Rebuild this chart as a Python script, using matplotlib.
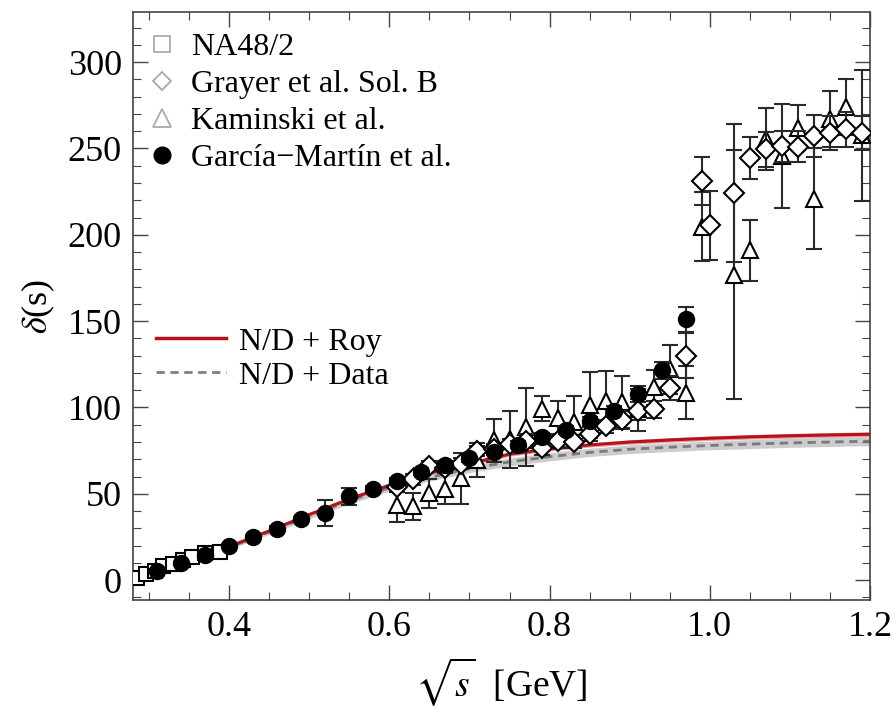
import numpy as np
import matplotlib.pyplot as plt
from matplotlib.lines import Line2D

plt.rcParams['font.family'] = ['Liberation Serif', 'DejaVu Serif']
plt.rcParams['mathtext.fontset'] = 'stix'

# NA48/2 (open squares)
na48_x = [0.285, 0.296, 0.307, 0.318, 0.330, 0.342, 0.354, 0.370, 0.388]
na48_y = [1.0, 3.5, 5.5, 8.0, 9.5, 11.5, 13.5, 15.5, 16.5]
na48_err = [0.5, 0.5, 0.6, 0.6, 0.7, 0.7, 0.8, 0.8, 0.9]

# Grayer et al. Sol. B (open diamonds)
grayer_x = [0.61, 0.63, 0.65, 0.67, 0.69, 0.71, 0.73, 0.75, 0.77, 0.79, 0.81, 0.83, 0.85,
            0.87, 0.89, 0.91, 0.93, 0.95, 0.97, 0.99, 1.00, 1.03, 1.05, 1.07, 1.09, 1.11,
            1.13, 1.15, 1.17, 1.19]
grayer_y = [54.0, 58.3, 66.3, 65.0, 67.5, 74.9, 76.0, 79.0, 80.5, 76.3, 80.6, 80.3, 84.5,
            89.0, 93.0, 98.0, 99.0, 111.5, 130.0, 231.0, 205.6, 224.0, 244.5, 249.4, 251.3,
            251.0, 257.3, 259.0, 261.0, 259.0]
grayer_err = [3, 3, 3, 3, 3, 3, 3, 3, 4, 4, 4, 4, 4, 4, 5, 5, 5, 7, 13,
              14, 20, 40, 12, 10, 9, 9, 12, 10, 10, 10]

# Kaminski et al. (open triangles)
kam_x = [0.61, 0.63, 0.65, 0.67, 0.69, 0.71, 0.73, 0.75, 0.77, 0.79, 0.81, 0.83, 0.85,
         0.87, 0.89, 0.91, 0.93, 0.95, 0.97, 0.99, 1.03, 1.05, 1.07, 1.09, 1.11, 1.13,
         1.15, 1.17, 1.19]
kam_y = [43.4, 42.8, 50.2, 53.0, 59.0, 69.5, 81.0, 81.5, 88.8, 99.4, 93.8, 91.7, 101.5,
         104.0, 103.0, 99.4, 111.6, 122.0, 108.5, 204.6, 177.0, 191.0, 255.7, 245.5, 262.0,
         221.0, 267.0, 274.0, 257.7]
kam_err = [9.5, 7.7, 8.6, 9.0, 14.8, 10.0, 12.5, 16.5, 22.5, 7.2, 10.0, 15.0, 19.0,
           17.0, 15.5, 13.3, 10.0, 14.0, 15.4, 20.0, 72.0, 17.6, 18.0, 30.0, 13.0, 29.0,
           16.0, 16.0, 38.0]

# Garcia-Martin et al. (filled circles)
gm_x = [0.31, 0.34, 0.37, 0.40, 0.43, 0.46, 0.49, 0.52, 0.55, 0.58, 0.61, 0.64, 0.67,
        0.70, 0.73, 0.76, 0.79, 0.82, 0.85, 0.88, 0.91, 0.94, 0.97]
gm_y = [5.2, 9.7, 14.3, 19.7, 25.1, 29.9, 35.3, 39.0, 48.6, 52.7, 57.5, 62.8, 66.8,
        70.5, 74.5, 78.4, 83.0, 86.9, 92.0, 98.2, 107.8, 121.5, 151.0]
gm_err = [1.0, 1.0, 1.2, 1.2, 1.3, 1.4, 1.5, 7.5, 5.0, 1.6, 1.8, 2.0, 2.0,
          2.0, 2.0, 2.0, 2.2, 2.2, 2.4, 2.6, 3.0, 5.0, 7.0]

# N/D curves
curve_x = [0.28, 0.30, 0.33, 0.36, 0.40, 0.45, 0.50, 0.55, 0.60, 0.65, 0.70, 0.75, 0.80,
           0.85, 0.90, 0.95, 1.00, 1.05, 1.10, 1.15, 1.20]
roy_y = [0.0, 3.0, 8.0, 13.0, 19.5, 28.5, 38.0, 47.0, 55.0, 62.0, 67.5, 73.0, 76.0,
         78.3, 80.0, 81.2, 82.2, 83.0, 83.6, 84.1, 84.5]
roy_band = [0.0, 0.3, 0.5, 0.6, 0.7, 0.8, 0.9, 1.0, 1.0, 1.1, 1.1, 1.2, 1.2,
            1.2, 1.3, 1.3, 1.3, 1.3, 1.4, 1.4, 1.4]
dat_y = [0.0, 3.0, 8.0, 13.0, 19.0, 28.0, 37.2, 46.0, 53.5, 59.5, 64.5, 68.5, 71.5,
         74.0, 75.8, 77.0, 78.0, 78.8, 79.5, 80.0, 80.5]
dat_band = [0.0, 0.5, 0.8, 1.0, 1.2, 1.4, 1.6, 1.8, 2.0, 2.1, 2.2, 2.3, 2.4,
            2.4, 2.5, 2.5, 2.5, 2.6, 2.6, 2.6, 2.6]

fig = plt.figure(figsize=(8.95, 7.08), dpi=100)
ax = fig.add_axes([0.1486, 0.1525, 0.8235, 0.8305])

cx = np.array(curve_x)
ax.fill_between(cx, np.array(dat_y) - dat_band, np.array(dat_y) + dat_band,
                color='#cccccc', lw=0, zorder=1)
ax.fill_between(cx, np.array(roy_y) - roy_band, np.array(roy_y) + roy_band,
                color='#e8a0a0', lw=0, zorder=1.5)
ax.plot(cx, dat_y, color='#7a7a7a', lw=2, ls=(0, (3, 2)), zorder=2)
ax.plot(cx, roy_y, color='#b5121b', lw=2.2, zorder=2.5)

ebar = dict(ecolor='#2a2a2a', elinewidth=1.5, capsize=6, capthick=1.5, ls='none')
ax.errorbar(na48_x, na48_y, yerr=na48_err, fmt='s', ms=10, mfc='white', mec='black',
            mew=1.5, zorder=3, **ebar)
ax.errorbar(kam_x, kam_y, yerr=kam_err, fmt='^', ms=12, mfc='white', mec='black',
            mew=1.5, zorder=4, **ebar)
ax.errorbar(grayer_x, grayer_y, yerr=grayer_err, fmt='D', ms=10, mfc='white', mec='black',
            mew=1.5, zorder=5, **ebar)
ax.errorbar(gm_x, gm_y, yerr=gm_err, fmt='o', ms=11.5, mfc='black', mec='black',
            zorder=6, **ebar)

ax.set_xlim(0.28, 1.2)
ax.set_ylim(-11.5, 329)
ax.set_xticks([0.4, 0.6, 0.8, 1.0, 1.2])
ax.set_xticklabels(['0.4', '0.6', '0.8', '1.0', '1.2'])
ax.set_xticks(np.arange(0.30, 1.2001, 0.05), minor=True)
ax.set_yticks([0, 50, 100, 150, 200, 250, 300])
ax.set_yticks(np.arange(-10, 330, 10), minor=True)
ax.tick_params(which='both', direction='in', top=True, right=True, color='#444444',
               labelsize=26, pad=8)
ax.tick_params(which='major', length=11, width=1)
ax.tick_params(which='minor', length=6, width=0.8)
for s in ax.spines.values():
    s.set_color('#444444')
    s.set_linewidth(1.2)

ax.set_xlabel(r'$\sqrt{s}$  [GeV]', fontsize=27, labelpad=8)
ax.set_ylabel(r'$\delta$(s)', fontsize=26, labelpad=8)

g = '#aaaaaa'
h1 = [Line2D([], [], marker='s', ls='none', ms=12, mfc='white', mec=g, mew=1.3),
      Line2D([], [], marker='D', ls='none', ms=9, mfc='white', mec=g, mew=1.3),
      Line2D([], [], marker='^', ls='none', ms=13, mfc='white', mec=g, mew=1.3),
      Line2D([], [], marker='o', ls='none', ms=12, mfc='black', mec='black')]
leg1 = ax.legend(h1, ['NA48/2', 'Grayer et al. Sol. B', 'Kaminski et al.',
                      u'Garc\u00eda\u2212Mart\u00edn et al.'],
                 loc='upper left', bbox_to_anchor=(-0.01, 1.003), frameon=False,
                 fontsize=23, handlelength=0.9, handletextpad=0.45, labelspacing=0.24,
                 borderaxespad=0.3)
ax.add_artist(leg1)

h2 = [Line2D([], [], color='#b5121b', lw=2.5),
      Line2D([], [], color='#808080', lw=2, ls=(0, (3, 2)))]
ax.legend(h2, ['N/D + Roy', 'N/D + Data'], loc='upper left',
          bbox_to_anchor=(-0.008, 0.513), frameon=False, fontsize=23,
          handlelength=2.2, handletextpad=0.4, labelspacing=0.15)

fig.savefig('out.png', dpi=100)
